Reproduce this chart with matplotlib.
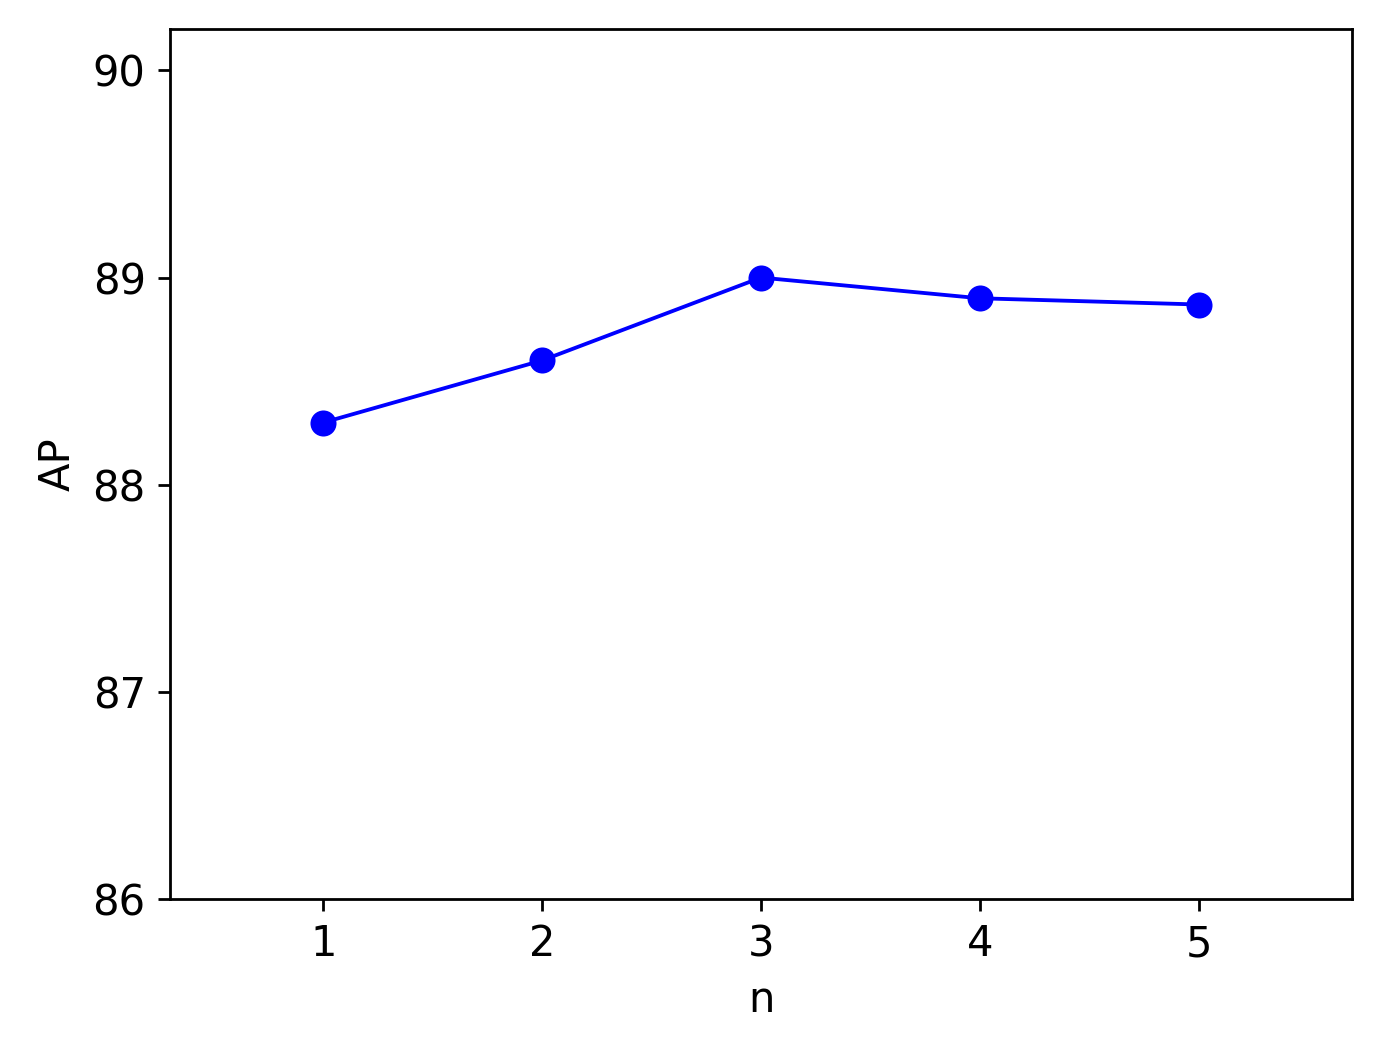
import matplotlib
matplotlib.use("Agg")
import matplotlib.pyplot as plt

n_values = [1, 2, 3, 4, 5]
ap_values = [88.3, 88.6, 89.0, 88.9, 88.87]

plt.rcParams["font.size"] = 12

fig = plt.figure(figsize=(1382 / 250, 1040 / 250), dpi=250)
ax = fig.add_axes([170 / 1382, 1 - 899 / 1040, (1352 - 170) / 1382, (899 - 29) / 1040])
ax.plot(n_values, ap_values, "o-", color="blue", linewidth=1.1, markersize=6.5)
ax.set_xlim(0.3, 5.7)
ax.set_ylim(86, 90.2)
ax.set_xticks(n_values)
ax.set_yticks([86, 87, 88, 89, 90])
ax.set_xlabel("n")
ax.set_ylabel("AP")
fig.savefig("out.png", dpi=250)
